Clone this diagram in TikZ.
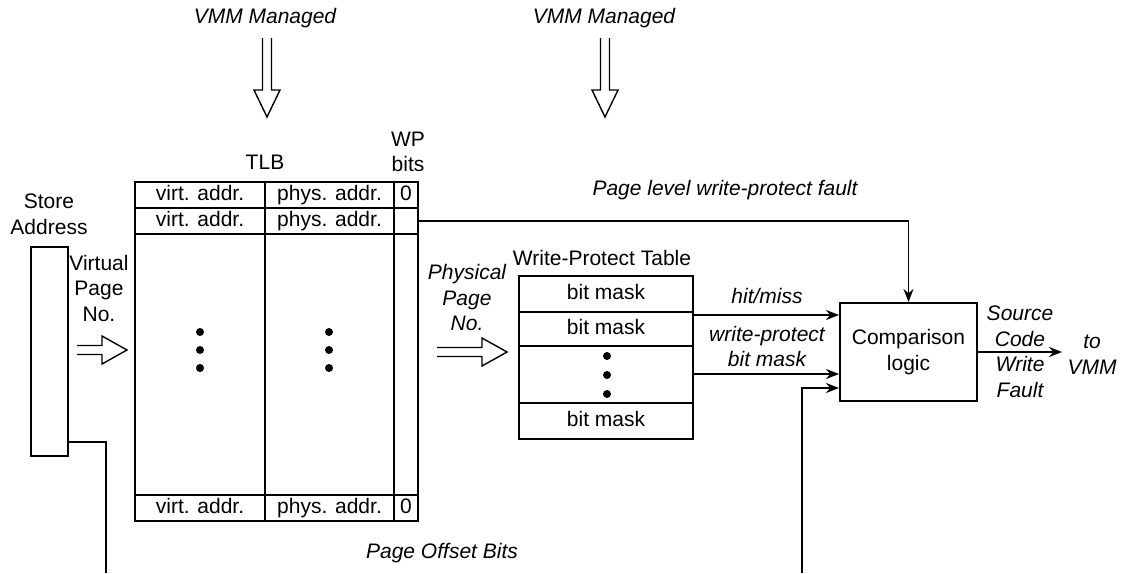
\documentclass[tikz,border=0pt]{standalone}
\usepackage{fontspec}
\setmainfont{Liberation Sans}
\usetikzlibrary{arrows.meta,calc}
\begin{document}
\begin{tikzpicture}[x=1pt,y=-1pt,
 base/.style={font=\fontsize{21}{25.5}\selectfont},
 lbl/.style={base, align=center, inner sep=0},
 ilbl/.style={align=center, inner sep=0, font=\fontsize{21}{25.5}\selectfont\itshape},
 cell/.style={draw, line width=1.3pt, inner sep=0, base, text height=14pt, text depth=4pt},
 outer/.style={draw, line width=2.3pt, inner sep=0},
 box/.style={draw, line width=2pt, inner sep=0, base, align=center},
 arr/.style={line width=1.8pt, -{Stealth[length=13pt,width=10pt]}},
 wire/.style={line width=1.5pt},
 hollow/.style={line width=1.4pt, line join=miter},
 dot/.style={circle, fill, inner sep=0, minimum size=8pt}
]
\useasboundingbox (0,0) rectangle (1124,573);

% top labels and hollow arrows
\node[ilbl] (vmm1) at (265,18) {VMM Managed};
\node[ilbl] (vmm2) at (604,18) {VMM Managed};
\draw[hollow] (262.5,38) -- (262.5,90) -- (254,90) -- (267,117) -- (280,90) -- (271.5,90) -- (271.5,38);
\draw[hollow] (600.5,38) -- (600.5,90) -- (592,90) -- (605,117) -- (618,90) -- (609.5,90) -- (609.5,38);

% TLB
\node[lbl] (tlblbl) at (265,162) {TLB};
\node[lbl] (wplbl) at (408,152) {WP\\bits};
\node[cell, minimum width=130pt, minimum height=26pt] (t1a) at (200,195) {virt. addr.};
\node[cell, minimum width=129pt, minimum height=26pt] (t1b) at (329.5,195) {phys. addr.};
\node[cell, minimum width=24pt, minimum height=26pt] (t1c) at (406,195) {0};
\node[cell, minimum width=130pt, minimum height=26pt] (t2a) at (200,221) {virt. addr.};
\node[cell, minimum width=129pt, minimum height=26pt] (t2b) at (329.5,221) {phys. addr.};
\node[cell, minimum width=24pt, minimum height=26pt] (t2c) at (406,221) {};
\node[cell, minimum width=130pt, minimum height=261pt] (tma) at (200,364.5) {};
\node[cell, minimum width=129pt, minimum height=261pt] (tmb) at (329.5,364.5) {};
\node[cell, minimum width=24pt, minimum height=261pt] (tmc) at (406,364.5) {};
\node[cell, minimum width=130pt, minimum height=26pt] (t3a) at (200,508) {virt. addr.};
\node[cell, minimum width=129pt, minimum height=26pt] (t3b) at (329.5,508) {phys. addr.};
\node[cell, minimum width=24pt, minimum height=26pt] (t3c) at (406,508) {0};
\node[outer, minimum width=283pt, minimum height=339pt] (tlb) at (276.5,351.5) {};
\node[dot] (d1) at (200,332) {};
\node[dot] (d2) at (200,350) {};
\node[dot] (d3) at (200,368) {};
\node[dot] (d4) at (329,332) {};
\node[dot] (d5) at (329,350) {};
\node[dot] (d6) at (329,368) {};

% Store address
\node[lbl] (salbl) at (49,214.5) {Store\\Address};
\node[outer, minimum width=37pt, minimum height=209pt] (sa) at (49.5,351.5) {};
\node[lbl] (vpn) at (99,288) {Virtual\\Page\\No.};
\draw[hollow] (77,345.5) -- (102,345.5) -- (102,336) -- (127,350) -- (102,364) -- (102,354.5) -- (77,354.5);

% Physical page no
\node[ilbl] (ppn) at (467,297.5) {Physical\\Page\\No.};
\draw[hollow] (437,347.5) -- (482,347.5) -- (482,338) -- (507,352) -- (482,366) -- (482,356.5) -- (437,356.5);

% Write-protect table
\node[lbl] (wptlbl) at (602,258) {Write-Protect Table};
\node[cell, minimum width=174pt, minimum height=36pt] (w1) at (606,294) {bit mask};
\node[cell, minimum width=174pt, minimum height=34pt] (w2) at (606,329) {bit mask};
\node[cell, minimum width=174pt, minimum height=57pt] (w3) at (606,374.5) {};
\node[cell, minimum width=174pt, minimum height=36pt] (w4) at (606,421) {bit mask};
\node[outer, line width=2pt, minimum width=174pt, minimum height=163pt] (wpt) at (606,357.5) {};
\node[dot] (d7) at (607,356) {};
\node[dot] (d8) at (607,375) {};
\node[dot] (d9) at (607,394) {};

% Comparison logic
\node[box, minimum width=137pt, minimum height=98pt] (cmp) at (908.5,352) {Comparison\\logic};

% labels
\node[ilbl] (plwp) at (725,190) {Page level write-protect fault};
\node[ilbl] (hm) at (767,296) {hit/miss};
\node[ilbl] (wpbm) at (767,346.5) {write-protect\\bit mask};
\node[ilbl] (scwf) at (1020,352) {Source\\Code\\Write\\Fault};
\node[ilbl] (tovmm) at (1092,354.5) {to\\VMM};
\node[ilbl] (pob) at (442,553) {Page Offset Bits};

% connectors
\draw[arr] (t2c.east) -| (cmp.north);
\draw[arr] (w1.east |- 0,315) -- (cmp.west |- 0,315);
\draw[arr] (w3.east |- 0,374) -- (cmp.west |- 0,374);
\coordinate (pobend) at (802,573);
\draw[arr] (pobend) |- (cmp.west |- 0,388);
\coordinate (saend) at (106,573);
\draw[wire] (sa.east |- 0,442) -| (saend);
\coordinate (outend) at (1062,352);
\draw[arr] (cmp.east) -- (outend);
\end{tikzpicture}
\end{document}
